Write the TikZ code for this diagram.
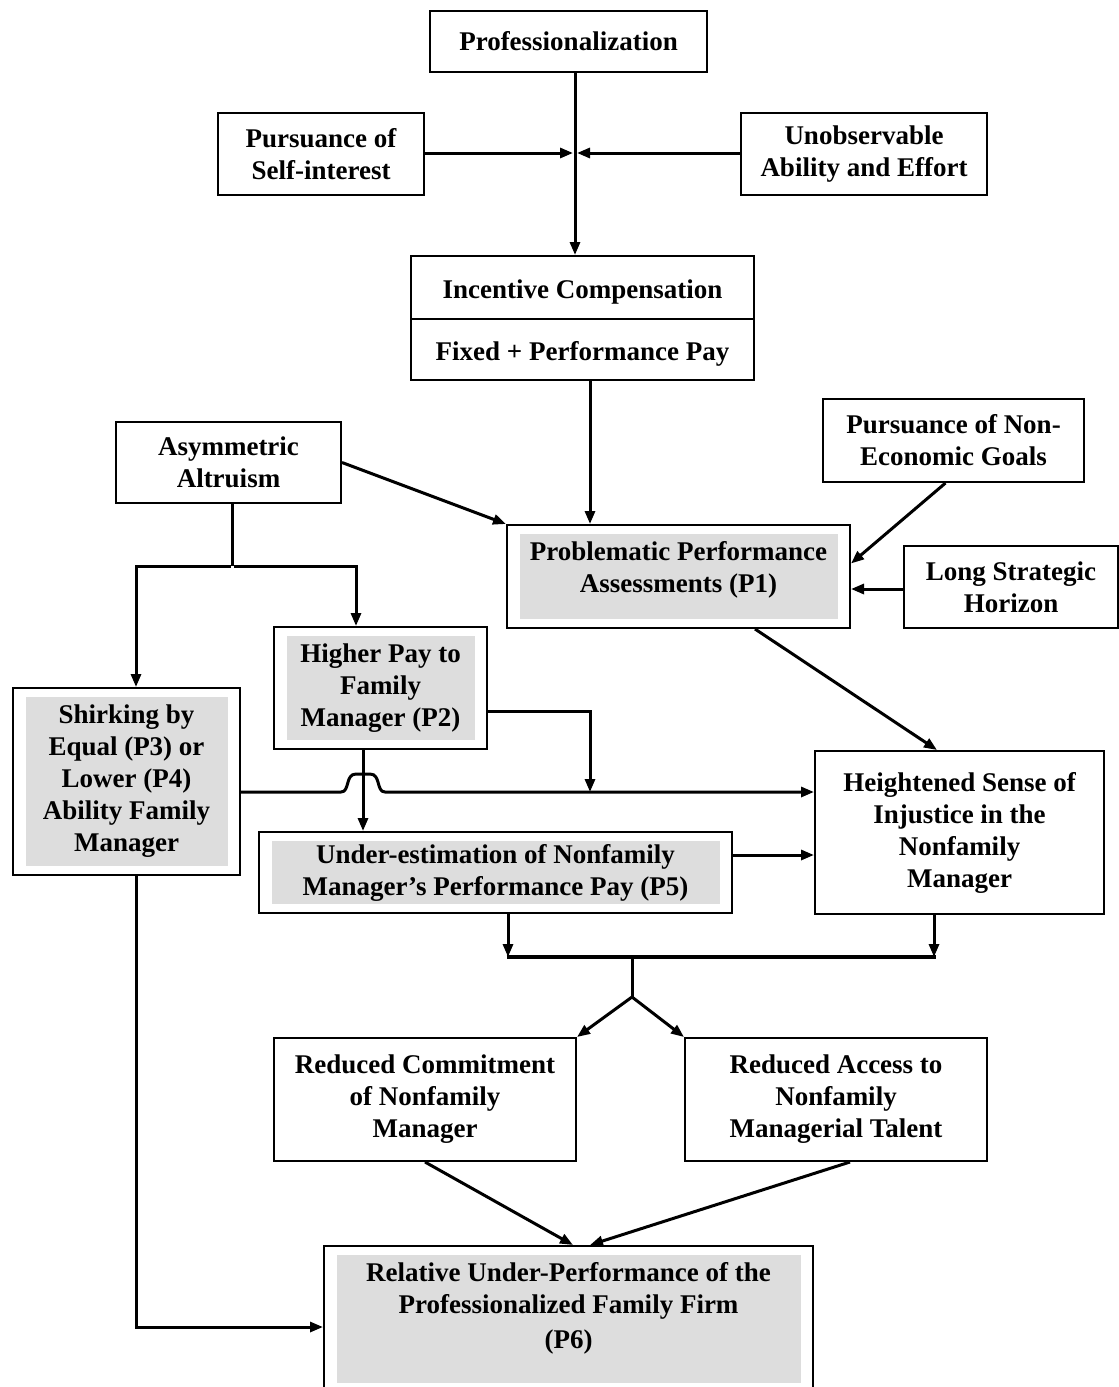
\documentclass[tikz,border=0pt]{standalone}
\usepackage{fontspec}
\setmainfont{Liberation Serif}
\usetikzlibrary{arrows.meta}
\definecolor{panel}{RGB}{221,221,221}
\tikzset{
  lbl/.style={font=\fontsize{27}{32}\selectfont\bfseries, align=center, inner sep=0pt},
  box/.style={lbl, draw=black, line width=2pt, fill=white},
  gbox/.style={box, path picture={\fill[panel]
      ([xshift=13pt,yshift=-9pt]path picture bounding box.north west) rectangle
      ([xshift=-12pt,yshift=9pt]path picture bounding box.south east);}},
  wire/.style={line width=3pt},
  arr/.style={wire, -{Triangle[length=13pt,width=10pt]}},
}
\begin{document}
\begin{tikzpicture}[x=1pt,y=-1pt]
\useasboundingbox (0,0) rectangle (1119,1387);
\clip (0,0) rectangle (1119,1387);
\fill[white] (0,0) rectangle (1119,1387);

% boxes
\node[box, minimum width=277, minimum height=61] (prof) at (568.5,41.5) {Professionalization};
\node[box, minimum width=206, minimum height=82] (self) at (321,154) {Pursuance of\\Self-interest};
\node[box, minimum width=246, minimum height=82] (unob) at (864,154) {Unobservable\\Ability and Effort};

\node[box, minimum width=343, minimum height=124] (inc) at (582.5,318) {};
\draw[line width=1.6pt] (inc.west |- 0,319) -- (inc.east |- 0,319);
\node[lbl] (incA) at (582.5,292) {Incentive Compensation};
\node[lbl] (incB) at (582.5,354) {Fixed + Performance Pay};

\node[box, minimum width=225, minimum height=81] (alt) at (228.5,462.5) {Asymmetric\\Altruism};
\node[box, minimum width=261, minimum height=83] (nonec) at (953.5,440.5) {Pursuance of Non-\\Economic Goals};
\node[box, minimum width=214, minimum height=82] (lsh) at (1011,587) {Long Strategic\\Horizon};

\node[gbox, minimum width=343, minimum height=103] (p1) at (678.5,576.5) {};
\node[lbl] (p1t) at (678.5,570) {Problematic Performance\\Assessments (P1)};

\node[gbox, minimum width=213, minimum height=122] (hp) at (380.5,688) {Higher Pay to\\Family\\Manager (P2)};
\node[gbox, minimum width=227, minimum height=187] (shirk) at (126.5,781.5) {Shirking by\\Equal (P3) or\\Lower (P4)\\Ability Family\\Manager};
\node[gbox, minimum width=473, minimum height=81] (under) at (495.5,872.5) {Under-estimation of Nonfamily\\Manager’s Performance Pay (P5)};
\node[box, minimum width=289, minimum height=163] (heigh) at (959.5,832.5) {Heightened Sense of\\Injustice in the\\Nonfamily\\Manager};

\node[box, minimum width=302, minimum height=123] (rc) at (425,1099.5) {Reduced Commitment\\of Nonfamily\\Manager};
\node[box, minimum width=302, minimum height=123] (ra) at (836,1099.5) {Reduced Access to\\Nonfamily\\Managerial Talent};

\node[gbox, minimum width=489, minimum height=146] (p6) at (568.5,1319) {};
\node[lbl] (p6t) at (568.5,1308) {Relative Under-Performance of the\\Professionalized Family Firm\\[3pt](P6)};

% junction points
\coordinate (J) at (575,153);
\coordinate (A) at (232,566);
\coordinate (M) at (590,792);
\coordinate (H) at (363,792);
\coordinate (B1) at (508,957);
\coordinate (B2) at (934,957);
\coordinate (Bm) at (632,957);
\coordinate (F) at (632,997);

% top cluster
\draw[arr] (prof.south -| J) -- (inc.north -| J);
\draw[arr] (self.east |- J) -- ([xshift=-2pt]J);
\draw[arr] (unob.west |- J) -- ([xshift=2pt]J);

% into P1
\draw[arr] ([xshift=7.5pt]inc.south) -- ([xshift=7.5pt]inc.south |- p1.north);
\draw[arr] (alt.east) -- (p1.north west);
\draw[arr] ([xshift=-8pt]nonec.south) -- ([yshift=13pt]p1.east);
\draw[arr] ([yshift=-2pt]lsh.west) -- ([yshift=-2pt]lsh.west -| p1.east);
\draw[arr] ([xshift=76.5pt]p1.south) -- ([xshift=-22.5pt]heigh.north);

% altruism branches
\draw[wire] (alt.south -| A) -- (A);
\draw[arr] ([xshift=-1.5pt]A) -| ([xshift=9.5pt]shirk.north);
\draw[arr] ([xshift=1.5pt]A) -| ([xshift=-24.5pt]hp.north);

% higher pay links
\draw[arr] ([yshift=-23pt]hp.east) -| (M);
\draw[arr] ([xshift=-17.5pt]hp.south) -- ([xshift=-17.5pt]hp.south |- under.north);

% shirking to injustice, hopping over the vertical link
\draw[arr] (shirk.east |- H) -- ([xshift=-22pt]H)
  .. controls ([xshift=-13pt]H) and ([xshift=-18pt,yshift=18pt]H) .. ([xshift=-7pt,yshift=18pt]H)
  -- ([xshift=7pt,yshift=18pt]H)
  .. controls ([xshift=18pt,yshift=18pt]H) and ([xshift=13pt]H) .. ([xshift=22pt]H)
  -- (heigh.west |- H);

\draw[arr] ([yshift=17.5pt]under.east) -- ([yshift=17.5pt]under.east -| heigh.west);

% merge bar and fork
\draw[arr] ([xshift=12.5pt]under.south) -- (B1);
\draw[arr] ([xshift=-25.5pt]heigh.south) -- (B2);
\draw[line width=4pt] ([xshift=-1.5pt]B1) -- ([xshift=1.5pt]B2);
\draw[wire] (Bm) -- (F);
\draw[arr] (F) -- (rc.north east);
\draw[arr] (F) -- (ra.north west);

% into P6
\draw[arr] (rc.south) -- ([xshift=4.5pt]p6.north);
\draw[arr] ([xshift=14pt]ra.south) -- ([xshift=21.5pt]p6.north);
\draw[arr] ([xshift=9.5pt]shirk.south) |- (p6.west |- 0,1327);
\end{tikzpicture}
\end{document}
